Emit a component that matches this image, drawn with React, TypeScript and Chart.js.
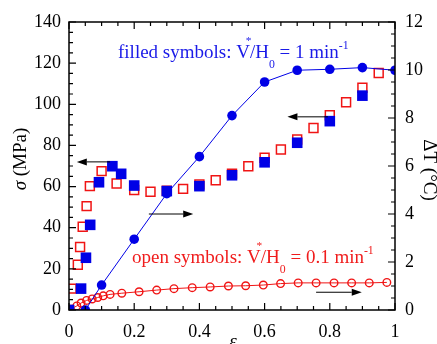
import React, { useEffect, useRef } from "react";
import { Chart, registerables } from "chart.js";

Chart.register(...registerables);

// ---- data ----
const blueCircleX = [0, 0.05, 0.1, 0.2, 0.3, 0.4, 0.5, 0.6, 0.7, 0.8, 0.9, 1.0];
const blueCircleY = [0, 0, 1.04, 2.95, 4.85, 6.39, 8.1, 9.5, 9.99, 10.03, 10.1, 9.99];

const blueSquareX = [0, 0.037, 0.052, 0.065, 0.092, 0.133, 0.16, 0.2, 0.3, 0.4, 0.5, 0.6, 0.7, 0.8, 0.9];
const blueSquareY = [0, 10.4, 25.4, 41.4, 62.1, 69.9, 66.2, 60.5, 57.8, 60.2, 65.5, 71.8, 81.3, 91.8, 104.2];

const redSquareX = [0, 0.008, 0.027, 0.034, 0.042, 0.054, 0.064, 0.1, 0.146, 0.2, 0.25, 0.3, 0.35, 0.4, 0.45, 0.5, 0.55, 0.6, 0.65, 0.7, 0.75, 0.8, 0.85, 0.9, 0.95];
const redSquareY = [0, 10.4, 22, 30.6, 40.5, 50.5, 60.2, 67.5, 61.5, 58.3, 57.5, 58, 58.9, 61, 63.1, 66.3, 69.9, 74, 78, 82.9, 88.5, 94.7, 101, 108, 115.2];

const redCircleX = [0, 0.024, 0.037, 0.054, 0.071, 0.088, 0.105, 0.126, 0.162, 0.215, 0.269, 0.322, 0.378, 0.433, 0.489, 0.542, 0.596, 0.649, 0.703, 0.758, 0.813, 0.867, 0.921, 0.975];
const redCircleY = [0, 0.17, 0.29, 0.4, 0.46, 0.52, 0.59, 0.65, 0.7, 0.76, 0.83, 0.89, 0.93, 0.96, 1.0, 1.01, 1.04, 1.1, 1.13, 1.13, 1.13, 1.13, 1.13, 1.15];

const xTicks = [0, 0.2, 0.4, 0.6, 0.8, 1];
const xMinorTicks = [0.05, 0.1, 0.15, 0.25, 0.3, 0.35, 0.45, 0.5, 0.55, 0.65, 0.7, 0.75, 0.85, 0.9, 0.95];
const yTicks = [0, 20, 40, 60, 80, 100, 120, 140];
const yMinorTicks = [5, 10, 15, 25, 30, 35, 45, 50, 55, 65, 70, 75, 85, 90, 95, 105, 110, 115, 125, 130, 135];
const y2Ticks = [0, 2, 4, 6, 8, 10, 12];
const y2MinorTicks = [0.5, 1, 1.5, 2.5, 3, 3.5, 4.5, 5, 5.5, 6.5, 7, 7.5, 8.5, 9, 9.5, 10.5, 11, 11.5];

// arrows: [axis, yValue, xFrom, xTo]
const arrows: [string, number, number, number][] = [
  ["y", 72, 0.126, 0.024],
  ["y2", 4.0, 0.245, 0.381],
  ["y", 93.9, 0.794, 0.67],
  ["y2", 0.74, 0.758, 0.898],
];

const BLUE = "#0000e6";
const RED = "#f01414";
const FONT = '"Liberation Serif", "Times New Roman", serif';

const zip = (xs: number[], ys: number[]) => xs.map((x, i) => ({ x, y: ys[i] }));

type Part = { t: string; m: "n" | "sup" | "sub" | "over" };

function drawRich(ctx: CanvasRenderingContext2D, x: number, y: number, parts: Part[], size: number, color: string) {
  ctx.fillStyle = color;
  ctx.textBaseline = "alphabetic";
  ctx.textAlign = "left";
  let cx = x;
  for (const p of parts) {
    if (p.m === "n") {
      ctx.font = `${size}px ${FONT}`;
      ctx.fillText(p.t, cx, y);
      cx += ctx.measureText(p.t).width;
    } else if (p.m === "sup") {
      ctx.font = `${size * 0.62}px ${FONT}`;
      ctx.fillText(p.t, cx, y - size * 0.45);
      cx += ctx.measureText(p.t).width;
    } else if (p.m === "sub") {
      ctx.font = `${size * 0.62}px ${FONT}`;
      ctx.fillText(p.t, cx, y + size * 0.5);
      cx += ctx.measureText(p.t).width;
    } else {
      ctx.font = `${size * 0.6}px ${FONT}`;
      ctx.fillText(p.t, cx - size * 0.22, y - size * 0.72);
    }
  }
}

const decorPlugin = {
  id: "decor",
  afterDraw(chart: any) {
    const ctx: CanvasRenderingContext2D = chart.ctx;
    const { left, right, top, bottom } = chart.chartArea;
    const xs = chart.scales.x;
    const ys = chart.scales.y;
    const y2 = chart.scales.y2;
    ctx.save();
    ctx.strokeStyle = "#000";
    ctx.lineWidth = 1.5;
    ctx.strokeRect(left, top, right - left, bottom - top);
    ctx.lineWidth = 1.2;
    ctx.beginPath();
    const MAJ = 7;
    const MIN = 4;
    for (const v of xTicks) {
      const p = xs.getPixelForValue(v);
      ctx.moveTo(p, bottom); ctx.lineTo(p, bottom - MAJ);
      ctx.moveTo(p, top); ctx.lineTo(p, top + MAJ);
    }
    for (const v of xMinorTicks) {
      const p = xs.getPixelForValue(v);
      ctx.moveTo(p, bottom); ctx.lineTo(p, bottom - MIN);
      ctx.moveTo(p, top); ctx.lineTo(p, top + MIN);
    }
    for (const v of yTicks) {
      const p = ys.getPixelForValue(v);
      ctx.moveTo(left, p); ctx.lineTo(left + MAJ, p);
    }
    for (const v of yMinorTicks) {
      const p = ys.getPixelForValue(v);
      ctx.moveTo(left, p); ctx.lineTo(left + MIN, p);
    }
    for (const v of y2Ticks) {
      const p = y2.getPixelForValue(v);
      ctx.moveTo(right, p); ctx.lineTo(right - MAJ, p);
    }
    for (const v of y2MinorTicks) {
      const p = y2.getPixelForValue(v);
      ctx.moveTo(right, p); ctx.lineTo(right - MIN, p);
    }
    ctx.stroke();

    // arrows
    ctx.lineWidth = 1;
    ctx.fillStyle = "#000";
    for (const [ax, yv, x1, x2] of arrows) {
      const sc = ax === "y" ? ys : y2;
      const py = sc.getPixelForValue(yv);
      const px1 = xs.getPixelForValue(x1);
      const px2 = xs.getPixelForValue(x2);
      const dir = px2 > px1 ? 1 : -1;
      const hl = 10;
      ctx.beginPath();
      ctx.moveTo(px1, py);
      ctx.lineTo(px2 - dir * hl, py);
      ctx.stroke();
      ctx.beginPath();
      ctx.moveTo(px2, py);
      ctx.lineTo(px2 - dir * hl, py - 3.5);
      ctx.lineTo(px2 - dir * hl, py + 3.5);
      ctx.closePath();
      ctx.fill();
    }

    // annotations
    drawRich(ctx, 118, 58, [
      { t: "filled symbols: V", m: "n" },
      { t: "*", m: "over" },
      { t: "/H", m: "n" },
      { t: "0", m: "sub" },
      { t: " = 1 min", m: "n" },
      { t: "-1", m: "sup" },
    ], 19, "#1a1ae8");
    drawRich(ctx, 132, 263, [
      { t: "open symbols: V", m: "n" },
      { t: "*", m: "over" },
      { t: "/H", m: "n" },
      { t: "0", m: "sub" },
      { t: " = 0.1 min", m: "n" },
      { t: "-1", m: "sup" },
    ], 19, "#f01c1c");

    // axis titles
    ctx.fillStyle = "#000";
    ctx.textBaseline = "middle";
    ctx.textAlign = "left";
    // left
    ctx.save();
    ctx.translate(21, 159);
    ctx.rotate(-Math.PI / 2);
    ctx.font = `italic 19px ${FONT}`;
    const w1 = ctx.measureText("σ").width;
    ctx.font = `19px ${FONT}`;
    const w2 = ctx.measureText(" (MPa)").width;
    const start = -(w1 + w2) / 2;
    ctx.font = `italic 19px ${FONT}`;
    ctx.fillText("σ", start, 0);
    ctx.font = `19px ${FONT}`;
    ctx.fillText(" (MPa)", start + w1, 0);
    ctx.restore();
    // right
    ctx.save();
    ctx.translate(429, 170);
    ctx.rotate(Math.PI / 2);
    ctx.font = `19px ${FONT}`;
    ctx.textAlign = "center";
    ctx.fillText("ΔT (°C)", 0, 0);
    ctx.restore();
    // bottom
    ctx.font = `italic 19px ${FONT}`;
    ctx.textAlign = "center";
    ctx.textBaseline = "alphabetic";
    ctx.fillText("ε", 233, 347);
    ctx.restore();
  },
};

export default function App() {
  const ref = useRef<HTMLCanvasElement | null>(null);
  useEffect(() => {
    if (!ref.current) return;
    const tickFont = { family: FONT, size: 18 };
    const chart = new Chart(ref.current, {
      type: "scatter",
      data: {
        datasets: [
          {
            label: "dT fast",
            data: zip(blueCircleX, blueCircleY),
            yAxisID: "y2",
            showLine: true,
            borderColor: BLUE,
            backgroundColor: BLUE,
            borderWidth: 1,
            pointStyle: "circle",
            pointRadius: 4.8,
            pointBorderWidth: 0,
          },
          {
            label: "sigma fast",
            data: zip(blueSquareX, blueSquareY),
            yAxisID: "y",
            showLine: false,
            backgroundColor: BLUE,
            borderColor: BLUE,
            pointStyle: "rect",
            pointRadius: 7.5,
            pointBorderWidth: 0,
          },
          {
            label: "dT slow",
            data: zip(redCircleX, redCircleY),
            yAxisID: "y2",
            showLine: true,
            borderColor: RED,
            backgroundColor: "rgba(0,0,0,0)",
            borderWidth: 1,
            pointStyle: "circle",
            pointRadius: 3.8,
            pointBorderWidth: 1.4,
            pointBorderColor: RED,
            pointBackgroundColor: "rgba(255,255,255,0)",
          },
          {
            label: "sigma slow",
            data: zip(redSquareX, redSquareY),
            yAxisID: "y",
            showLine: false,
            borderColor: RED,
            backgroundColor: "rgba(0,0,0,0)",
            pointStyle: "rect",
            pointRadius: 6.3,
            pointBorderWidth: 1.5,
            pointBorderColor: RED,
            pointBackgroundColor: "rgba(255,255,255,0)",
          },
        ],
      },
      options: {
        animation: false,
        responsive: false,
        devicePixelRatio: 1,
        layout: { padding: { top: 22, left: 0, right: 0, bottom: 0 } },
        plugins: { legend: { display: false }, tooltip: { enabled: false }, title: { display: false } },
        scales: {
          x: {
            type: "linear",
            position: "bottom",
            min: 0,
            max: 1,
            grid: { display: false, drawTicks: false },
            border: { display: false },
            afterBuildTicks: (s: any) => { s.ticks = xTicks.map((v) => ({ value: v })); },
            afterFit: (s: any) => { s.height = 34; },
            ticks: { font: tickFont, color: "#000", padding: 11, autoSkip: false, maxRotation: 0, callback: (v: any) => String(v) },
          },
          y: {
            type: "linear",
            position: "left",
            min: 0,
            max: 140,
            grid: { display: false, drawTicks: false },
            border: { display: false },
            afterBuildTicks: (s: any) => { s.ticks = yTicks.map((v) => ({ value: v })); },
            afterFit: (s: any) => { s.width = 69; },
            ticks: { font: tickFont, color: "#000", padding: 8, autoSkip: false, callback: (v: any) => String(v) },
          },
          y2: {
            type: "linear",
            position: "right",
            min: 0,
            max: 12,
            grid: { display: false, drawTicks: false },
            border: { display: false },
            afterBuildTicks: (s: any) => { s.ticks = y2Ticks.map((v) => ({ value: v })); },
            afterFit: (s: any) => { s.width = 42; },
            ticks: { font: tickFont, color: "#000", padding: 10, autoSkip: false, callback: (v: any) => String(v) },
          },
        },
      } as any,
      plugins: [decorPlugin],
    });
    return () => chart.destroy();
  }, []);
  return (
    <div style={{ position: "absolute", left: 0, top: 0, width: 437, height: 344, background: "#fff" }}>
      <canvas ref={ref} width={437} height={344} style={{ width: 437, height: 344, display: "block" }} />
    </div>
  );
}
